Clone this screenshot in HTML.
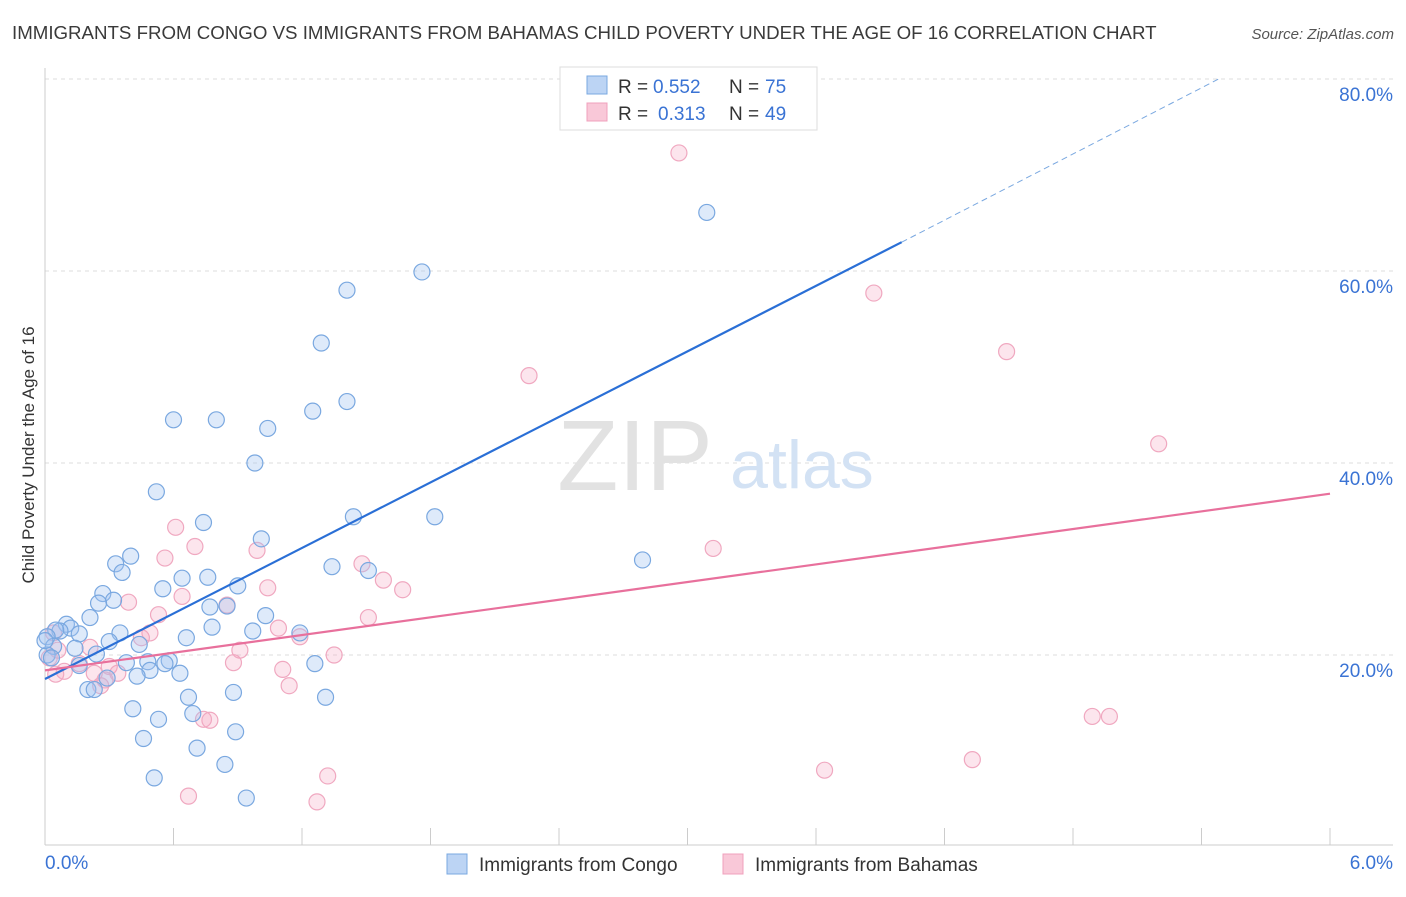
<!DOCTYPE html>
<html><head><meta charset="utf-8"><style>
body{margin:0;background:#fff;font-family:"Liberation Sans",sans-serif}
svg text{font-family:"Liberation Sans",sans-serif}
</style></head><body>
<svg id="chart" width="1406" height="892" viewBox="0 0 1406 892">
<text x="12" y="39" font-size="18.7" fill="#3a3a3a">IMMIGRANTS FROM CONGO VS IMMIGRANTS FROM BAHAMAS CHILD POVERTY UNDER THE AGE OF 16 CORRELATION CHART</text>
<text x="1394" y="39" font-size="15" fill="#555" font-style="italic" text-anchor="end">Source: ZipAtlas.com</text>
<g id="grid"></g>
<g><text x="635" y="490" font-size="100" fill="#e2e2e2" font-family="Liberation Serif" text-anchor="middle">ZIP</text><text x="802" y="488" font-size="68" fill="#d3e2f4" text-anchor="middle">atlas</text></g>
<text transform="translate(34,455) rotate(-90)" font-size="17" fill="#333" text-anchor="middle">Child Poverty Under the Age of 16</text>
<g id="marks"></g>
<g>
<rect x="560" y="67" width="257" height="63" fill="#fff" stroke="#ddd"/>
<rect x="587" y="76" width="20" height="18" fill="#bcd4f4" stroke="#7aa8e0"/>
<text x="618" y="93" font-size="19" fill="#333">R =</text>
<text x="653" y="93" font-size="19" fill="#3a73d4">0.552</text>
<text x="729" y="93" font-size="19" fill="#333">N =</text>
<text x="765" y="93" font-size="19" fill="#3a73d4">75</text>
<rect x="587" y="103" width="20" height="18" fill="#f9c8d8" stroke="#f0a0bc"/>
<text x="618" y="120" font-size="19" fill="#333">R =</text>
<text x="658" y="120" font-size="19" fill="#3a73d4">0.313</text>
<text x="729" y="120" font-size="19" fill="#333">N =</text>
<text x="765" y="120" font-size="19" fill="#3a73d4">49</text>
</g>
<g>
<rect x="447" y="854" width="20" height="20" fill="#bcd4f4" stroke="#7aa8e0"/>
<text x="479" y="871" font-size="19" fill="#333">Immigrants from Congo</text>
<rect x="723" y="854" width="20" height="20" fill="#f9c8d8" stroke="#f0a0bc"/>
<text x="755" y="871" font-size="19" fill="#333">Immigrants from Bahamas</text>
</g>
</svg>
<script>
const xTicks=[0,0.6,1.2,1.8,2.4,3.0,3.6,4.2,4.8,5.4,6.0];
const yTicks=[20,40,60,80];
const yTickLabels=["20.0%","40.0%","60.0%","80.0%"];
const congoX=[3.09,1.76,1.41,1.29,1.41,1.25,0.60,0.80,1.04,0.98,0.52,0.74,1.44,1.82,1.01,0.40,0.33,0.36,2.79,1.34,1.51,0.64,0.76,0.90,0.55,0.27,0.32,0.25,0.77,0.85,1.03,0.21,0.78,0.10,0.12,0.07,0.05,0.01,0.16,0.35,0.66,1.19,0.97,0.30,0.44,0.04,0.14,0.24,0.01,0.03,0.48,0.58,0.38,0.56,1.26,0.49,0.16,0.63,0.29,0.43,0.20,0.23,0.67,0.88,1.31,0.41,0.69,0.53,0.89,0.46,0.71,0.84,0.51,0.94,0.00];
const congoY=[66.1,59.9,58.0,52.5,46.4,45.4,44.5,44.5,43.6,40.0,37.0,33.8,34.4,34.4,32.1,30.3,29.5,28.6,29.9,29.2,28.8,28.0,28.1,27.2,26.9,26.4,25.7,25.4,25.0,25.1,24.1,23.9,22.9,23.2,22.8,22.5,22.6,21.9,22.2,22.3,21.8,22.3,22.5,21.4,21.1,20.9,20.7,20.1,20.0,19.7,19.3,19.4,19.2,19.1,19.1,18.4,18.9,18.1,17.6,17.8,16.4,16.4,15.6,16.1,15.6,14.4,13.9,13.3,12.0,11.3,10.3,8.6,7.2,5.1,21.5];
const bahamasX=[2.96,3.87,4.49,2.26,5.20,0.61,0.56,0.70,0.99,3.12,1.48,1.58,1.04,1.67,0.64,0.39,0.85,0.53,1.51,1.09,0.49,0.45,1.19,0.04,0.21,0.91,0.06,1.35,0.16,0.30,0.09,0.05,0.88,1.11,0.23,0.34,0.28,0.26,1.14,0.74,0.77,4.89,4.97,4.33,3.64,1.32,0.67,1.27,0.02];
const bahamasY=[72.3,57.7,51.6,49.1,42.0,33.3,30.1,31.3,30.9,31.1,29.5,27.8,27.0,26.8,26.1,25.5,25.2,24.2,23.9,22.8,22.3,21.8,21.9,22.3,20.8,20.5,20.5,20.0,19.1,18.8,18.3,18.0,19.2,18.5,18.1,18.1,17.4,16.8,16.8,13.3,13.2,13.6,13.6,9.1,8.0,7.4,5.3,4.7,19.7];
const congoTrend=[0,17.5,4.0,63.0,5.48,80.0];
const bahamasTrend=[0,18.4,6.0,36.8];

const NS="http://www.w3.org/2000/svg";
const X=v=>45+v/6*1285;
const Y=v=>847-v*9.6;
const grid=document.getElementById('grid');
const marks=document.getElementById('marks');
function mk(tag,attrs,parent){const e=document.createElementNS(NS,tag);for(const k in attrs)e.setAttribute(k,attrs[k]);parent.appendChild(e);return e;}
yTicks.forEach((t,i)=>{
  const l=mk('line',{x1:45,x2:1393,y1:Y(t),y2:Y(t),stroke:'#ddd','stroke-dasharray':'4,4'},grid);
  
  
  const tx=mk('text',{x:1393,y:Y(t)+22,'font-size':19,fill:'#3a73d4','text-anchor':'end'},grid);
  tx.textContent=yTickLabels[i];
  
  
});
const ax=mk('line',{x1:45,x2:1393,y1:845,y2:845,stroke:'#ccc'},grid);


const ay=mk('line',{x1:45,x2:45,y1:68,y2:845,stroke:'#ccc'},grid);


xTicks.forEach(t=>{
  const l=mk('line',{x1:X(t),x2:X(t),y1:828,y2:845,stroke:'#ccc'},grid);
  
  
});
const xl0=mk('text',{x:45,y:869,'font-size':19,fill:'#3a73d4'},grid);xl0.textContent='0.0%';


const xl1=mk('text',{x:1393,y:869,'font-size':19,fill:'#3a73d4','text-anchor':'end'},grid);xl1.textContent='6.0%';



bahamasX.forEach((x,i)=>{
  const c=mk('circle',{cx:X(x),cy:Y(bahamasY[i]),r:8,fill:'rgba(245,170,195,0.3)',stroke:'#f0a8c0','stroke-width':1.2},marks);
  
  
});
congoX.forEach((x,i)=>{
  const c=mk('circle',{cx:X(x),cy:Y(congoY[i]),r:8,fill:'rgba(160,196,240,0.35)',stroke:'#7aa8e0','stroke-width':1.2},marks);
  
  
});
const t1=mk('line',{x1:X(congoTrend[0]),y1:Y(congoTrend[1]),x2:X(congoTrend[2]),y2:Y(congoTrend[3]),stroke:'#2a6fd6','stroke-width':2.2},marks);


const t1d=mk('line',{x1:X(congoTrend[2]),y1:Y(congoTrend[3]),x2:X(congoTrend[4]),y2:Y(congoTrend[5]),stroke:'#7aa8e0','stroke-width':1,'stroke-dasharray':'6,4'},marks);


const t2=mk('line',{x1:X(bahamasTrend[0]),y1:Y(bahamasTrend[1]),x2:X(bahamasTrend[2]),y2:Y(bahamasTrend[3]),stroke:'#e8709c','stroke-width':2.2},marks);


</script>
</body></html>
